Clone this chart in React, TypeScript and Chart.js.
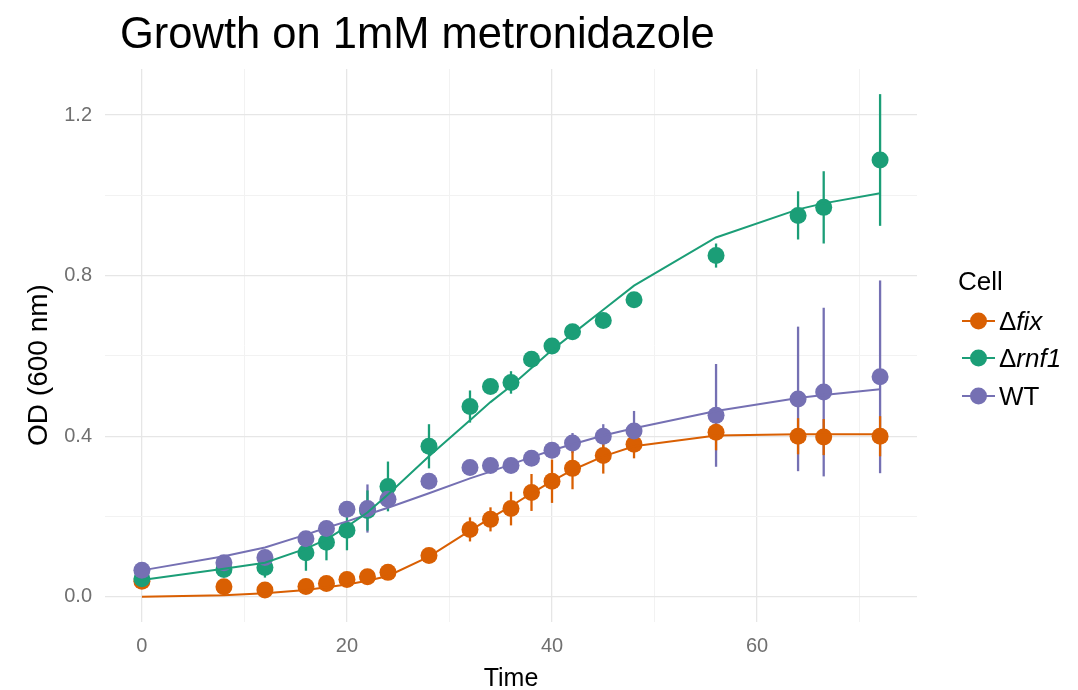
import React, { useEffect, useRef } from "react";
import { Chart, registerables } from "chart.js";

Chart.register(...registerables);

// ---- data ----
const times = [0, 8, 12, 16, 18, 20, 22, 24, 28, 32, 34, 36, 38, 40, 42, 45, 48, 56, 64, 66.5, 72];

const fixMean = [0.039, 0.025, 0.017, 0.026, 0.033, 0.043, 0.05, 0.061, 0.103, 0.168, 0.193, 0.22, 0.26, 0.288, 0.32, 0.352, 0.38, 0.41, 0.4, 0.398, 0.4];
const fixErr = [0.005, 0.005, 0.005, 0.008, 0.008, 0.01, 0.01, 0.012, 0.015, 0.03, 0.03, 0.042, 0.046, 0.054, 0.052, 0.045, 0.035, 0.045, 0.045, 0.045, 0.05];
const fixFit = [0.0, 0.004, 0.009, 0.017, 0.024, 0.031, 0.04, 0.052, 0.1, 0.165, 0.196, 0.226, 0.258, 0.288, 0.316, 0.35, 0.375, 0.402, 0.405, 0.405, 0.405];

const rnfMean = [0.045, 0.068, 0.073, 0.11, 0.136, 0.166, 0.215, 0.275, 0.375, 0.474, 0.524, 0.534, 0.592, 0.625, 0.66, 0.688, 0.74, 0.85, 0.95, 0.97, 1.088];
const rnfErr = [0.005, 0.01, 0.025, 0.045, 0.045, 0.05, 0.05, 0.062, 0.055, 0.04, 0.015, 0.028, 0.015, 0.01, 0.01, 0.01, 0.01, 0.03, 0.06, 0.09, 0.164];
const rnfFit = [0.042, 0.07, 0.085, 0.12, 0.143, 0.175, 0.21, 0.255, 0.35, 0.44, 0.485, 0.525, 0.57, 0.615, 0.655, 0.715, 0.775, 0.895, 0.965, 0.98, 1.005];

const wtMean = [0.066, 0.085, 0.098, 0.145, 0.17, 0.218, 0.22, 0.243, 0.288, 0.322, 0.327, 0.327, 0.345, 0.365, 0.383, 0.4, 0.413, 0.452, 0.493, 0.51, 0.548];
const wtErr = [0.005, 0.01, 0.01, 0.01, 0.01, 0.015, 0.06, 0.02, 0.015, 0.012, 0.012, 0.012, 0.015, 0.02, 0.025, 0.03, 0.05, 0.128, 0.18, 0.21, 0.24];
const wtFit = [0.066, 0.101, 0.123, 0.155, 0.172, 0.188, 0.205, 0.222, 0.258, 0.295, 0.312, 0.33, 0.348, 0.365, 0.38, 0.402, 0.42, 0.463, 0.495, 0.503, 0.517];

const xTickLabels = ["0", "20", "40", "60"];
const yTickLabels = ["0.0", "0.4", "0.8", "1.2"];

const titleText = "Growth on 1mM metronidazole";
const xTitle = "Time";
const yTitle = "OD (600 nm)";
const legendTitle = "Cell";

const COLORS = { fix: "#D95F02", rnf: "#1B9E77", wt: "#7570B3" };
const FONT = "'Liberation Sans', Arial, Helvetica, sans-serif";

const groups = [
  { key: "fix", color: COLORS.fix, mean: fixMean, err: fixErr, fit: fixFit, parts: [{ t: "Δ", i: false }, { t: "fix", i: true }] },
  { key: "rnf", color: COLORS.rnf, mean: rnfMean, err: rnfErr, fit: rnfFit, parts: [{ t: "Δ", i: false }, { t: "rnf1", i: true }] },
  { key: "wt", color: COLORS.wt, mean: wtMean, err: wtErr, fit: wtFit, parts: [{ t: "WT", i: false }] },
];

const errorBarPlugin = {
  id: "errorBars",
  beforeDatasetsDraw(chart: any) {
    const { ctx, scales } = chart;
    const x = scales.x;
    const y = scales.y;
    ctx.save();
    ctx.lineWidth = 2.3;
    ctx.lineCap = "butt";
    [groups[2], groups[1], groups[0]].forEach((g) => {
      ctx.strokeStyle = g.color;
      times.forEach((t, i) => {
        const px = x.getPixelForValue(t);
        ctx.beginPath();
        ctx.moveTo(px, y.getPixelForValue(g.mean[i] - g.err[i]));
        ctx.lineTo(px, y.getPixelForValue(g.mean[i] + g.err[i]));
        ctx.stroke();
      });
    });
    ctx.restore();
  },
};

const decorPlugin = {
  id: "decor",
  afterDraw(chart: any) {
    const { ctx, chartArea } = chart;
    ctx.save();
    // Title
    ctx.fillStyle = "#000";
    ctx.font = `43.5px ${FONT}`;
    ctx.textAlign = "left";
    ctx.textBaseline = "alphabetic";
    ctx.fillText(titleText, 120, 48);

    // X title
    ctx.font = `25px ${FONT}`;
    ctx.textAlign = "center";
    ctx.fillText(xTitle, (chartArea.left + chartArea.right) / 2, 686);

    // Y title
    ctx.save();
    ctx.translate(47, 365);
    ctx.rotate(-Math.PI / 2);
    ctx.font = `28px ${FONT}`;
    ctx.textAlign = "center";
    ctx.textBaseline = "alphabetic";
    ctx.fillText(yTitle, 0, 0);
    ctx.restore();

    // Legend
    ctx.textAlign = "left";
    ctx.textBaseline = "alphabetic";
    ctx.fillStyle = "#000";
    ctx.font = `26px ${FONT}`;
    ctx.fillText(legendTitle, 958, 290);
    const ys = [321, 358, 396];
    groups.forEach((g, k) => {
      const cy = ys[k];
      ctx.strokeStyle = g.color;
      ctx.lineWidth = 2;
      ctx.beginPath();
      ctx.moveTo(962, cy);
      ctx.lineTo(995, cy);
      ctx.stroke();
      ctx.fillStyle = g.color;
      ctx.beginPath();
      ctx.arc(978.5, cy, 8.5, 0, Math.PI * 2);
      ctx.fill();
      let tx = 999;
      ctx.fillStyle = "#000";
      g.parts.forEach((p) => {
        ctx.font = `${p.i ? "italic " : ""}26px ${FONT}`;
        ctx.fillText(p.t, tx, cy + 9);
        tx += ctx.measureText(p.t).width;
      });
    });
    ctx.restore();
  },
};

export default function App() {
  const ref = useRef<HTMLCanvasElement | null>(null);

  useEffect(() => {
    if (!ref.current) return;
    const lineSets = groups.map((g, k) => ({
      type: "line" as const,
      label: g.key + " fit",
      data: times.map((t, i) => ({ x: t, y: g.fit[i] })),
      borderColor: g.color,
      backgroundColor: g.color,
      borderWidth: 2,
      pointRadius: 0,
      tension: 0,
      fill: false,
      order: 1 + k,
    }));
    const pointSets = groups.map((g, k) => ({
      type: "line" as const,
      label: g.key,
      data: times.map((t, i) => ({ x: t, y: g.mean[i] })),
      showLine: false,
      borderColor: g.color,
      backgroundColor: g.color,
      pointBackgroundColor: g.color,
      pointBorderWidth: 0,
      pointRadius: 8.5,
      pointHoverRadius: 8.5,
      order: 6 - k,
    }));

    const majorGrid = "#e6e6e6";
    const minorGrid = "#f2f2f2";

    const chart = new Chart(ref.current, {
      type: "line",
      data: { datasets: [...lineSets, ...pointSets] as any },
      plugins: [errorBarPlugin, decorPlugin],
      options: {
        animation: false,
        responsive: false,
        devicePixelRatio: 1,
        layout: { padding: { top: 69, right: 161, left: 0, bottom: 0 } },
        plugins: { legend: { display: false }, tooltip: { enabled: false }, title: { display: false } },
        scales: {
          x: {
            type: "linear",
            min: -3.6,
            max: 75.6,
            border: { display: false },
            grid: {
              drawTicks: false,
              color: (c: any) => (c.tick && Math.round(c.tick.value) % 20 === 0 ? majorGrid : minorGrid),
              lineWidth: (c: any) => (c.tick && Math.round(c.tick.value) % 20 === 0 ? 1.3 : 1),
            },
            ticks: {
              stepSize: 10,
              includeBounds: false,
              autoSkip: false,
              maxRotation: 0,
              padding: 12,
              color: "#707070",
              font: { size: 20, family: FONT },
              callback: (v: any) => {
                const r = Math.round(Number(v));
                return r % 20 === 0 ? xTickLabels[r / 20] ?? "" : "";
              },
            },
            afterFit: (s: any) => {
              s.height = 68;
            },
          },
          y: {
            type: "linear",
            min: -0.0626,
            max: 1.3146,
            border: { display: false },
            grid: {
              drawTicks: false,
              color: (c: any) => (c.tick && Math.round(c.tick.value * 10) % 4 === 0 ? majorGrid : minorGrid),
              lineWidth: (c: any) => (c.tick && Math.round(c.tick.value * 10) % 4 === 0 ? 1.3 : 1),
            },
            ticks: {
              stepSize: 0.2,
              includeBounds: false,
              autoSkip: false,
              padding: 13,
              color: "#707070",
              font: { size: 20, family: FONT },
              callback: (v: any) => {
                const k = Math.round(Number(v) * 10);
                return k % 4 === 0 ? yTickLabels[k / 4] ?? "" : "";
              },
            },
            afterFit: (s: any) => {
              s.width = 105;
            },
          },
        },
      } as any,
    });
    return () => chart.destroy();
  }, []);

  return (
    <div style={{ position: "fixed", left: 0, top: 0, width: 1078, height: 690, background: "#fff" }}>
      <canvas ref={ref} width={1078} height={690} style={{ display: "block", width: 1078, height: 690 }} />
    </div>
  );
}
